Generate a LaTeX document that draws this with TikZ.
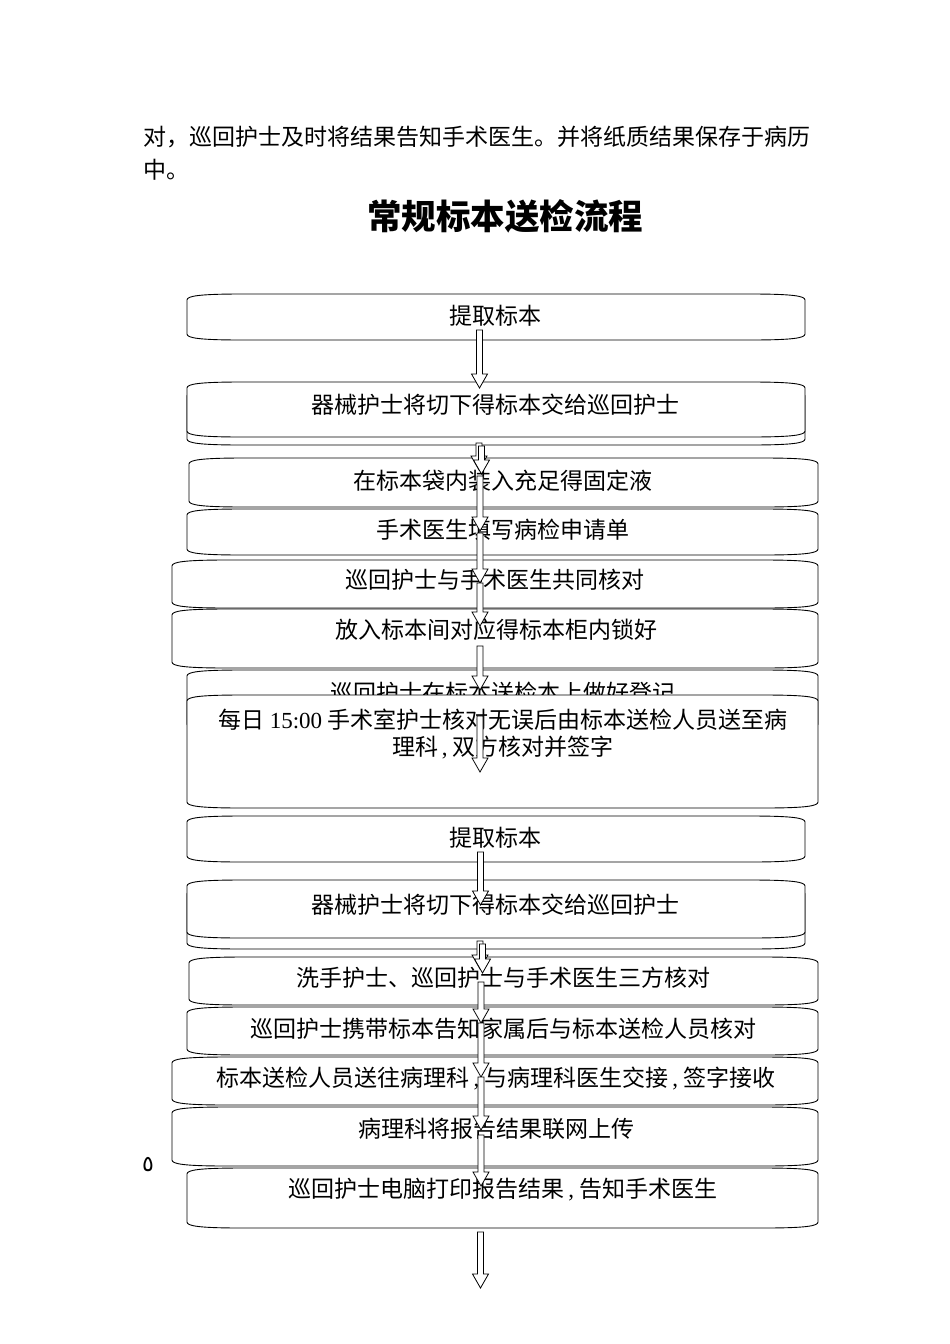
\documentclass[tikz,border=0pt]{standalone}
\usepackage{fontspec}
\usepackage{tikz}
\usetikzlibrary{calc}
\setmainfont{Liberation Serif}
\newfontfamily\cjk{Noto Sans CJK SC}
\newfontfamily\arabicfont[Script=Arabic]{DejaVu Sans}

\begin{document}
\begin{tikzpicture}[x=1pt,y=-1pt,
    boxline/.style={draw=black,line width=0.9pt,fill=white},
    arrowline/.style={draw=black,line width=0.8pt,fill=white},
    boxtext/.style={font=\cjk\fontsize{23}{27}\selectfont,inner sep=0pt,align=center}]
  \useasboundingbox (0,0) rectangle (950,1344);
  % box with flat, wide corners: left, top, right, bottom
  \def\outline#1#2#3#4{
    \draw[boxline] (#1,#2+6) .. controls (#1,#2+2) and (#1+12,#2) .. (#1+55,#2)
      -- (#3-55,#2) .. controls (#3-12,#2) and (#3,#2+2) .. (#3,#2+6)
      -- (#3,#4-6) .. controls (#3,#4-2) and (#3-12,#4) .. (#3-55,#4)
      -- (#1+55,#4) .. controls (#1+12,#4) and (#1,#4-2) .. (#1,#4-6) -- cycle;
  }
  % hollow block arrow pointing down
  \def\flowarrow#1#2{
    \draw[arrowline] let \p1=(#1), \p2=(#2) in
      (\x1-3pt,\y1) -- (\x1+3pt,\y1) -- (\x1+3pt,\y2+14pt) -- (\x1+8pt,\y2+14pt)
      -- (\x1,\y2) -- (\x1-8pt,\y2+14pt) -- (\x1-3pt,\y2+14pt) -- cycle;
  }

  % running text and heading
  \node[boxtext,anchor=west] (intro) at (143,137) {对，巡回护士及时将结果告知手术医生。并将纸质结果保存于病历};
  \node[boxtext,anchor=west] (intro2) at (143,170) {中。};
  \node[font=\cjk\bfseries\fontsize{34.5}{40}\selectfont,inner sep=0pt] (title) at (505,216) {常规标本送检流程};

  % first flow
  \outline{187}{294}{805}{340}
  \node[boxtext] (take1) at (495,316) {提取标本};
  \outline{187}{390}{805}{445}
  \outline{187}{382}{805}{437}
  \node[boxtext] (hand1) at (495,405) {器械护士将切下得标本交给巡回护士};
  \outline{189}{458}{818}{507}
  \node[boxtext] (fix) at (503,481) {在标本袋内装入充足得固定液};
  \outline{187}{509}{818}{555}
  \node[boxtext] (form) at (503,530) {手术医生填写病检申请单};
  \outline{172}{560}{818}{608}
  \node[boxtext] (check1) at (495,580) {巡回护士与手术医生共同核对};
  \outline{172}{609}{818}{668}
  \node[boxtext] (cabinet) at (496,630) {放入标本间对应得标本柜内锁好};
  \outline{187}{670}{818}{730}
  \node[boxtext] (log) at (503,693) {巡回护士在标本送检本上做好登记};
  \outline{187}{695}{818}{808}
  \node[boxtext] (daily) at (503,733.5) {每日 {\rmfamily 15:00} 手术室护士核对无误后由标本送检人员送至病\\理科\,{\rmfamily,} 双方核对并签字};

  % second flow
  \outline{187}{816}{805}{862}
  \node[boxtext] (take2) at (495,838) {提取标本};
  \outline{187}{888}{805}{949}
  \outline{187}{880}{805}{938}
  \node[boxtext] (hand2) at (495,905) {器械护士将切下得标本交给巡回护士};
  \outline{189}{957}{818}{1005}
  \node[boxtext] (check3) at (503,978) {洗手护士、巡回护士与手术医生三方核对};
  \outline{187}{1007}{818}{1055}
  \node[boxtext] (family) at (503,1029) {巡回护士携带标本告知家属后与标本送检人员核对};
  \outline{172}{1057}{818}{1105}
  \node[boxtext] (deliver) at (496,1078) {标本送检人员送往病理科\,{\rmfamily,} 与病理科医生交接\,{\rmfamily,} 签字接收};
  \outline{172}{1107}{818}{1166}
  \node[boxtext] (upload) at (496,1129) {病理科将报告结果联网上传};
  \outline{187}{1168}{818}{1228}
  \node[boxtext] (print) at (503,1190) {巡回护士电脑打印报告结果\,{\rmfamily,} 告知手术医生};

  \node[font=\arabicfont\fontsize{22}{26}\selectfont,inner sep=0pt] (pageno) at (148,1165) {٥};

  % arrow ends: number/x/start/tip
  \foreach \i/\ax/\ys/\ye in {1/479.5/330/388, 2/479/443/470, 3/481.5/446/474,
      4/480/476/531, 5/480/533/583, 6/480/583/626, 7/480/646/690, 8/480/716/772,
      9/480.5/852/905, 10/480/941/969, 11/482.5/944/973, 12/481/982/1023,
      13/481/1023/1077, 14/481/1077/1130, 15/481/1135/1186, 16/480.5/1232/1288} {
    \coordinate (s\i) at (\ax,\ys);
    \coordinate (e\i) at (\ax,\ye);
  }
  \foreach \i in {1,...,16} {
    \flowarrow{s\i}{e\i}
  }
\end{tikzpicture}
\end{document}
